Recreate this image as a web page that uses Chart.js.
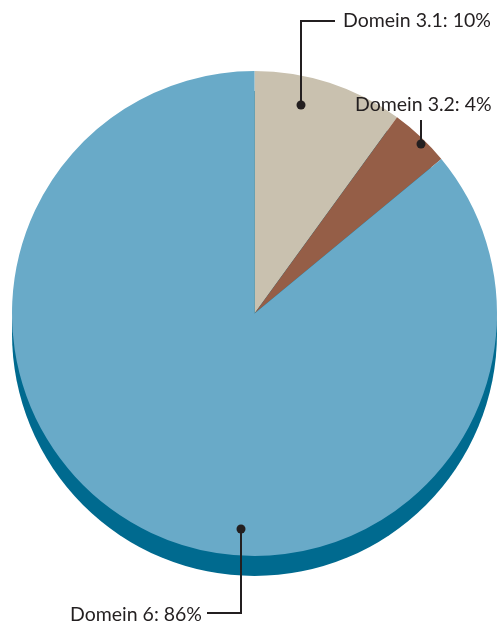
<!DOCTYPE html>
<html>
<head>
<meta charset="utf-8">
<script src="https://cdn.jsdelivr.net/npm/chart.js@4"></script>
<style>
  html, body { margin: 0; padding: 0; background: #fff; }
  #wrap { width: 497px; height: 624px; position: relative; }
</style>
</head>
<body>
<div id="wrap"><canvas id="chart"></canvas></div>
<script>
// data
const categories = ['Domein 3.1', 'Domein 3.2', 'Domein 6'];
const shares = [10, 4, 86];
const sliceColors = ['#c9c1af', '#955e47', '#69aac8'];

// where each callout sits (t = position along the slice, f = fraction of radius)
const callouts = [
  { t: 0.35, f: 0.88, path: [[0, -84], [34, -84]], textX: 343, textY: 21, align: 'left' },
  { t: 0.60, f: 0.98, path: [[0, -24]], textX: 355, textY: 105, align: 'left' },
  { t: 0.43, f: 0.89, path: [[0, 84], [-34, 84]], textX: 202, textY: 615, align: 'right' }
];

const shadowPlugin = {
  id: 'shadow',
  beforeDatasetsDraw(chart) {
    const arc = chart.getDatasetMeta(0).data[0];
    if (!arc) return;
    const { x, y, outerRadius } = arc.getProps(['x', 'y', 'outerRadius'], true);
    const ctx = chart.ctx;
    ctx.save();
    ctx.fillStyle = '#006a8f';
    ctx.beginPath();
    ctx.arc(x, y + 20, outerRadius, 0, Math.PI * 2);
    ctx.fill();
    ctx.restore();
  }
};

const calloutPlugin = {
  id: 'callouts',
  afterDatasetsDraw(chart) {
    const ctx = chart.ctx;
    const meta = chart.getDatasetMeta(0);
    ctx.save();
    ctx.strokeStyle = '#231f20';
    ctx.fillStyle = '#231f20';
    ctx.lineWidth = 2;
    ctx.font = '19.5px Lato, "Open Sans", sans-serif';
    ctx.textBaseline = 'middle';
    meta.data.forEach((arc, i) => {
      const c = callouts[i];
      const p = arc.getProps(['x', 'y', 'startAngle', 'endAngle', 'outerRadius'], true);
      const a = p.startAngle + c.t * (p.endAngle - p.startAngle);
      const px = Math.round(p.x + Math.cos(a) * p.outerRadius * c.f);
      const py = Math.round(p.y + Math.sin(a) * p.outerRadius * c.f);
      ctx.beginPath();
      ctx.arc(px, py, 4.5, 0, Math.PI * 2);
      ctx.fill();
      ctx.beginPath();
      ctx.moveTo(px, py);
      c.path.forEach(([dx, dy]) => ctx.lineTo(px + dx, py + dy));
      ctx.stroke();
      ctx.textAlign = c.align;
      ctx.fillText(categories[i] + ': ' + shares[i] + '%', c.textX, c.textY);
    });
    ctx.restore();
  }
};

new Chart(document.getElementById('chart'), {
  type: 'pie',
  data: {
    labels: categories,
    datasets: [{
      data: shares,
      backgroundColor: sliceColors,
      borderWidth: 0
    }]
  },
  options: {
    responsive: true,
    maintainAspectRatio: false,
    animation: false,
    layout: { padding: { left: 12, right: 0, top: 71, bottom: 68 } },
    plugins: {
      legend: { display: false },
      tooltip: { enabled: false }
    }
  },
  plugins: [shadowPlugin, calloutPlugin]
});
</script>
</body>
</html>
